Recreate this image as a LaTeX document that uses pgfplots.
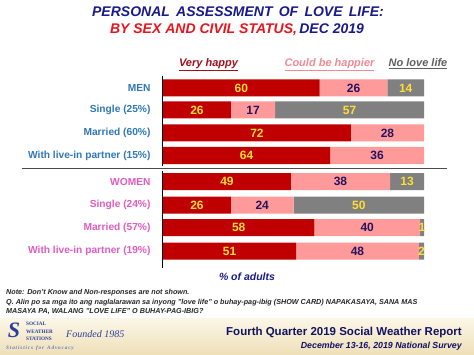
\documentclass[border=0pt]{standalone}
\usepackage{pgfplots}
\pgfplotsset{compat=1.18}
\usepackage{fontspec}
\setmainfont{Liberation Sans}
\newfontfamily\serifb{Liberation Serif}
\definecolor{vh}{HTML}{C00000}
\definecolor{cb}{HTML}{FF9A9A}
\definecolor{nl}{HTML}{808080}
\definecolor{yel}{HTML}{FFDD33}
\definecolor{navy}{HTML}{1A1A8C}
\definecolor{numnavy}{HTML}{24145E}
\definecolor{ttlred}{HTML}{E8141E}
\definecolor{menblue}{HTML}{2F78BA}
\definecolor{wompink}{HTML}{E25CC0}
\definecolor{legred}{HTML}{A0101C}
\definecolor{legpink}{HTML}{F08A96}
\definecolor{leggray}{HTML}{606060}
\definecolor{beige1}{HTML}{FBF6E6}
\definecolor{beige2}{HTML}{EEDFB8}
\definecolor{logoblue}{HTML}{2C3E9A}
\begin{document}
\begin{tikzpicture}[x=1pt,y=-1pt]
\path[use as bounding box] (0,0) rectangle (474,355);
\fill[white] (0,0) rectangle (474,355);
% footer band
\shade[top color=beige1,bottom color=beige2] (0,319) rectangle (474,355);
% titles
\node[font=\bfseries\itshape\fontsize{14}{16}\selectfont,text=navy] at (238,12) {PERSONAL\, ASSESSMENT\, OF\, LOVE\, LIFE:};
\node[font=\bfseries\itshape\fontsize{14}{16}\selectfont] at (237,30) {\textcolor{ttlred}{BY SEX AND CIVIL STATUS,}\,\textcolor{navy}{DEC 2019}};
% legend texts
\node[font=\bfseries\itshape\fontsize{11}{12}\selectfont,text=legred,anchor=base] at (208.5,67) {\underline{Very happy}};
\node[font=\bfseries\itshape\fontsize{11}{12}\selectfont,text=legpink,anchor=base] at (329.5,67) {\underline{Could be happier}};
\node[font=\bfseries\itshape\fontsize{11}{12}\selectfont,text=leggray,anchor=base] at (418,67) {\underline{No love life}};
% category labels
\begin{scope}[every node/.style={anchor=east,font=\bfseries\fontsize{10.2}{11}\selectfont}]
\node[text=menblue] at (154,88) {MEN};
\node[text=menblue] at (154,110) {Single (25\%)};
\node[text=menblue] at (154,133) {Married (60\%)};
\node[text=menblue] at (154,155.5) {With live-in partner (15\%)};
\node[text=wompink] at (154,181.5) {WOMEN};
\node[text=wompink] at (154,205) {Single (24\%)};
\node[text=wompink] at (154,227.5) {Married (57\%)};
\node[text=wompink] at (154,251) {With live-in partner (19\%)};
\end{scope}
% axis
\begin{axis}[
  at={(163pt,-75pt)}, anchor=north west,
  scale only axis, width=261pt, height=193pt,
  xmin=0, xmax=100, ymin=75, ymax=268, y dir=reverse,
  axis lines=none, xbar stacked, bar width=17pt,
  point meta=explicit symbolic,
  nodes near coords, nodes near coords align={center},
  every node near coord/.append style={font=\bfseries\fontsize{12}{14}\selectfont},
  clip=false,
]
\addplot[fill=vh,draw=none,every node near coord/.append style={text=yel}] coordinates {
(60,88) [60] (26,110) [26] (72,133) [72] (64,155.5) [64]
(49,181.5) [49] (26,205) [26] (58,227.5) [58] (51,251) [51]};
\addplot[fill=cb,draw=none,every node near coord/.append style={text=numnavy}] coordinates {
(26,88) [26] (17,110) [17] (28,133) [28] (36,155.5) [36]
(38,181.5) [38] (24,205) [24] (40.5,227.5) [40] (47,251) [48]};
\addplot[fill=nl,draw=none,every node near coord/.append style={text=yel}] coordinates {
(14,88) [14] (57,110) [57] (0,133) [{}] (0,155.5) [{}]
(13,181.5) [13] (50,205) [50] (1.5,227.5) [1] (2,251) [2]};
\end{axis}
% axis lines
\draw[line width=1.2pt,black] (162.5,76) -- (162.5,166);
\draw[line width=1.2pt,black] (162.5,171) -- (162.5,268);
\draw[line width=1pt,black!70] (22,169) -- (447,169);
% % of adults
\node[font=\bfseries\itshape\fontsize{10.5}{12}\selectfont,text=navy] at (247,276.5) {\% of adults};
% notes
\begin{scope}[every node/.style={anchor=west,font=\itshape\bfseries\fontsize{7.2}{8}\selectfont,text=black!85,inner sep=0pt}]
\node at (6,292.5) {Note: Don't Know and Non-responses are not shown.};
\node at (6,302.5) {Q. Alin po sa mga ito ang naglalarawan sa inyong "love life" o buhay-pag-ibig (SHOW CARD) NAPAKASAYA, SANA MAS};
\node at (6,312) {MASAYA PA, WALANG "LOVE LIFE" O BUHAY-PAG-IBIG?};
\end{scope}
% footer text
\node[anchor=east,font=\bfseries\fontsize{11.5}{13}\selectfont,text=navy!70!black,inner sep=0pt] at (462,333) {Fourth Quarter 2019 Social Weather Report};
\node[anchor=east,font=\bfseries\itshape\fontsize{8.8}{10}\selectfont,text=navy!70!black,inner sep=0pt] at (462,346) {December 13-16, 2019 National Survey};
% logo
\node[font=\serifb\bfseries\itshape\fontsize{22}{22}\selectfont,text=logoblue] at (14,330) {S};
\begin{scope}[every node/.style={anchor=base west,font=\serifb\bfseries\fontsize{5.2}{6}\selectfont,text=logoblue,inner sep=0pt}]
\node at (26,326) {SOCIAL};
\node at (26,333.5) {WEATHER};
\node at (26,341) {STATIONS};
\end{scope}
\node[anchor=west,font=\serifb\itshape\fontsize{10}{11}\selectfont,text=logoblue,inner sep=0pt] at (66,334) {Founded 1985};
\node[anchor=west,font=\serifb\bfseries\itshape\fontsize{5.2}{6}\selectfont,text=logoblue!70,inner sep=0pt] at (6,348) {S\,t\,a\,t\,i\,s\,t\,i\,c\,s\, \,f\,o\,r\, \,A\,d\,v\,o\,c\,a\,c\,y};
\end{tikzpicture}
\end{document}
